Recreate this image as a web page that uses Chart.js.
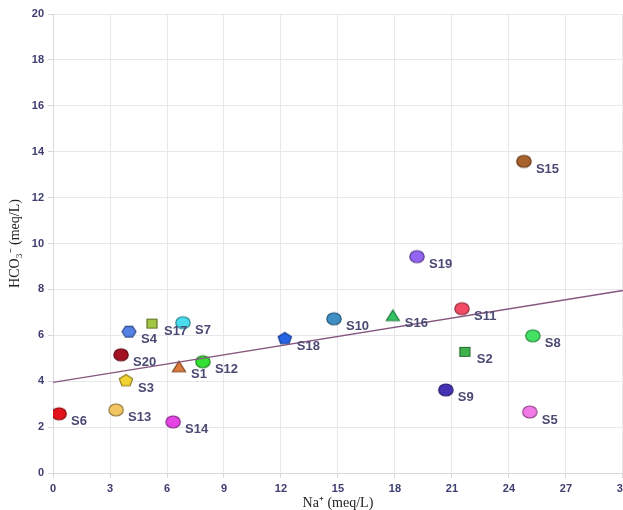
<!DOCTYPE html>
<html>
<head>
<meta charset="utf-8">
<script src="https://cdn.jsdelivr.net/npm/chart.js@4/dist/chart.umd.min.js"></script>
<style>
  html, body { margin: 0; padding: 0; background: #fff; overflow: hidden; }
  #wrap { width: 633px; height: 512px; position: relative; }
</style>
</head>
<body>
<div id="wrap"><canvas id="c"></canvas></div>
<script>
// Sample identifiers and measured ions (meq/L)
const samples = ['S1','S2','S3','S4','S5','S6','S7','S8','S9','S10',
                 'S11','S12','S13','S14','S15','S16','S17','S18','S19','S20'];
const sodium = [6.63, 21.68, 3.84, 4.0, 25.1, 0.32, 6.84, 25.26, 20.68, 14.79,
                21.53, 7.89, 3.32, 6.32, 24.79, 17.89, 5.21, 12.2, 19.16, 3.58];
const bicarbonate = [4.63, 5.28, 4.02, 6.16, 2.66, 2.58, 6.55, 5.98, 3.62, 6.72,
                     7.16, 4.85, 2.75, 2.23, 13.58, 6.86, 6.51, 5.85, 9.43, 5.15];
const markerColors = ['#dc7a3c','#3fb24e','#f2d232','#5580e4','#f27ae6','#e3121c','#48dcec','#44e264','#4432b4','#3f8ec4',
                      '#f24c64','#34e034','#f2c462','#e444e4','#aa622c','#34c466','#a4c444','#2464e4','#9464f2','#a21222'];
const markerShapes = ['triangle','square','pentagon','hexagon','ellipse','ellipse','ellipse','ellipse','ellipse','ellipse',
                      'ellipse','ellipse','ellipse','ellipse','ellipse','triangle','square','pentagon','ellipse','ellipse'];
// Fitted trend line end points
const trendNa = [0, 30];
const trendHco3 = [3.95, 7.95];
// Axis ranges and tick steps
const xTicks = { min: 0, max: 30, step: 3 };
const yTicks = { min: 0, max: 20, step: 2 };

function shade(hex, f) {
  const n = parseInt(hex.slice(1), 16);
  const r = Math.round(((n >> 16) & 255) * f), g = Math.round(((n >> 8) & 255) * f), b = Math.round((n & 255) * f);
  return `rgb(${r},${g},${b})`;
}

function makeMarker(shape, color) {
  const c = document.createElement('canvas');
  const w = 18, h = 16;
  c.width = w; c.height = h;
  const ctx = c.getContext('2d');
  ctx.fillStyle = color;
  ctx.strokeStyle = shade(color, 0.6);
  ctx.lineWidth = 1.2;
  ctx.beginPath();
  const cx = w / 2, cy = h / 2;
  if (shape === 'ellipse') {
    ctx.ellipse(cx, cy, 7.2, 6, 0, 0, Math.PI * 2);
  } else if (shape === 'square') {
    ctx.rect(cx - 5, cy - 4.5, 10, 9);
  } else if (shape === 'triangle') {
    ctx.moveTo(cx, cy - 5.5);
    ctx.lineTo(cx + 6.5, cy + 5);
    ctx.lineTo(cx - 6.5, cy + 5);
    ctx.closePath();
  } else {
    const k = shape === 'pentagon' ? 5 : 6;
    const off = shape === 'pentagon' ? -Math.PI / 2 : 0;
    for (let i = 0; i < k; i++) {
      const a = off + i * 2 * Math.PI / k;
      const px = cx + 7 * Math.cos(a), py = cy + 6.2 * Math.sin(a);
      if (i === 0) ctx.moveTo(px, py); else ctx.lineTo(px, py);
    }
    ctx.closePath();
  }
  ctx.fill();
  ctx.stroke();
  return c;
}

const points = samples.map((s, i) => ({ x: sodium[i], y: bicarbonate[i] }));
const pointImages = samples.map((s, i) => makeMarker(markerShapes[i], markerColors[i]));

// Writes each sample name beside its marker
const sampleLabels = {
  id: 'sampleLabels',
  afterDatasetsDraw(chart) {
    const meta = chart.getDatasetMeta(1);
    const ctx = chart.ctx;
    ctx.save();
    ctx.font = 'bold 13px "Liberation Sans", Arial, sans-serif';
    ctx.fillStyle = '#4a4a74';
    ctx.textAlign = 'left';
    ctx.textBaseline = 'middle';
    meta.data.forEach((el, i) => {
      ctx.fillText(samples[i], el.x + 12, el.y + 8);
    });
    ctx.restore();
  }
};

new Chart(document.getElementById('c'), {
  type: 'scatter',
  data: {
    datasets: [
      {
        type: 'line',
        data: trendNa.map((x, i) => ({ x, y: trendHco3[i] })),
        borderColor: '#86577e',
        borderWidth: 1.4,
        pointRadius: 0,
        fill: false
      },
      {
        data: points,
        pointStyle: pointImages,
        pointRadius: 8,
        pointHoverRadius: 8
      }
    ]
  },
  options: {
    responsive: true,
    maintainAspectRatio: false,
    animation: false,
    layout: { padding: { top: 14, left: 7, right: 0, bottom: 0 } },
    plugins: { legend: { display: false }, tooltip: { enabled: false } },
    scales: {
      x: {
        type: 'linear',
        min: xTicks.min, max: xTicks.max,
        ticks: {
          stepSize: xTicks.step,
          color: '#3d3d70',
          font: { family: '"Liberation Sans", Arial, sans-serif', size: 11, weight: 'bold' },
          padding: 4
        },
        grid: { color: '#e8e8ec', tickLength: 5, tickColor: '#d8d8dc' },
        border: { color: '#d8d8dc' },
        title: {
          display: true,
          text: 'Na\u207A (meq/L)',
          color: '#222',
          font: { family: '"Liberation Serif", "Times New Roman", serif', size: 14 },
          padding: { top: -4, bottom: 0 }
        }
      },
      y: {
        type: 'linear',
        min: yTicks.min, max: yTicks.max,
        ticks: {
          stepSize: yTicks.step,
          color: '#3d3d70',
          font: { family: '"Liberation Sans", Arial, sans-serif', size: 11, weight: 'bold' },
          padding: 4
        },
        grid: { color: '#e8e8ec', tickLength: 5, tickColor: '#d8d8dc' },
        border: { color: '#d8d8dc' },
        title: {
          display: true,
          text: 'HCO\u2083\u207B (meq/L)',
          color: '#222',
          font: { family: '"Liberation Serif", "Times New Roman", serif', size: 14 },
          padding: { top: 0, bottom: 4 }
        }
      }
    }
  },
  plugins: [sampleLabels]
});
</script>
</body>
</html>
